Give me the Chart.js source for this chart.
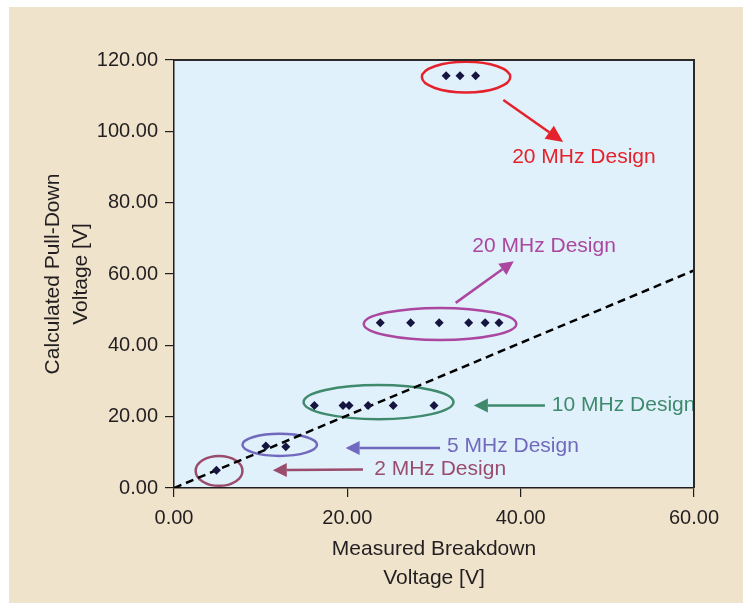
<!DOCTYPE html>
<html>
<head>
<meta charset="utf-8">
<script src="https://cdn.jsdelivr.net/npm/chart.js@4.4.1/dist/chart.umd.min.js"></script>
<style>
  html, body { margin: 0; padding: 0; background: #fff; }
  canvas { display: block; }
</style>
</head>
<body>
<canvas id="BreakdownChart" width="743" height="603"></canvas>
<script>
// Measured breakdown vs calculated pull-down voltage
// ***********************************************

// Data (2, 5, 10, 20, 20 MHz design groups, left to right)
const breakdownV = [
  4.9,
  10.6, 12.9,
  16.2, 19.5, 20.2, 22.4, 25.3, 30.0,
  23.8, 27.3, 30.6, 34.0, 35.9, 37.5,
  31.4, 33.0, 34.8
];
const pullDownV = [
  5.0,
  11.8, 11.6,
  23.1, 23.1, 23.1, 23.1, 23.1, 23.1,
  46.3, 46.3, 46.3, 46.3, 46.3, 46.3,
  115.6, 115.6, 115.6
];

// dashed reference line
const refLineX = [0, 60];
const refLineY = [0, 61];

// ticks
const xTicks = [0, 20, 40, 60];
const yTicks = [0, 20, 40, 60, 80, 100, 120];

const groupLabels = ['2 MHz Design', '5 MHz Design', '10 MHz Design', '20 MHz Design', '20 MHz Design'];

const FONT = "'Liberation Sans', Arial, Helvetica, sans-serif";
const INK = '#231f20';

// callouts, in axis units: ellipse [cx, cy, rx, ry], arrow [x1, y1, x2, y2], text [x, y, align]
const callouts = [
  { color: '#9a4c6c', ell: [5.2, 4.8, 2.7, 4.2], arrow: [21.8, 5.2, 11.4, 5.0], text: [23.1, 5.3, 'left'] },
  { color: '#7169bd', ell: [12.2, 12.1, 4.3, 3.1], arrow: [30.7, 11.2, 19.8, 11.2], text: [31.5, 11.8, 'left'] },
  { color: '#3f8a6d', ell: [23.6, 24.1, 8.65, 4.8], arrow: [42.8, 23.1, 34.6, 23.1], text: [43.6, 23.3, 'left'] },
  { color: '#ab479f', ell: [30.7, 46.0, 8.8, 4.5], arrow: [32.5, 51.9, 39.2, 63.6], text: [42.7, 67.9, 'center'] },
  { color: '#e5222b', ell: [33.7, 115.2, 5.1, 4.3], arrow: [38.0, 108.8, 44.9, 97.0], text: [47.3, 92.8, 'center'] }
];

const points = breakdownV.map((x, i) => ({ x: x, y: pullDownV[i] }));
const refLine = refLineX.map((x, i) => ({ x: x, y: refLineY[i] }));

// background, plot fill and frame
const backdrop = {
  id: 'backdrop',
  beforeDraw(chart) {
    const { ctx, chartArea: a } = chart;
    ctx.save();
    ctx.fillStyle = '#ffffff';
    ctx.fillRect(0, 0, chart.width, chart.height);
    ctx.fillStyle = '#efe3cc';
    ctx.fillRect(9, 7, chart.width - 9, chart.height - 7);
    ctx.fillStyle = '#e0f1fb';
    ctx.fillRect(a.left, a.top, a.right - a.left, a.bottom - a.top);
    ctx.restore();
  },
  afterDraw(chart) {
    const { ctx, chartArea: a } = chart;
    ctx.save();
    ctx.strokeStyle = '#2a2a2a';
    ctx.lineWidth = 2;
    ctx.beginPath();
    ctx.moveTo(a.left, a.top);
    ctx.lineTo(a.right, a.top);
    ctx.lineTo(a.right, a.bottom);
    ctx.stroke();
    ctx.restore();
  }
};

function drawArrow(ctx, x1, y1, x2, y2, head, half) {
  const ang = Math.atan2(y2 - y1, x2 - x1);
  const bx = x2 - head * Math.cos(ang), by = y2 - head * Math.sin(ang);
  ctx.beginPath();
  ctx.moveTo(x1, y1);
  ctx.lineTo(bx, by);
  ctx.stroke();
  ctx.beginPath();
  ctx.moveTo(x2, y2);
  ctx.lineTo(bx + half * Math.sin(ang), by - half * Math.cos(ang));
  ctx.lineTo(bx - half * Math.sin(ang), by + half * Math.cos(ang));
  ctx.closePath();
  ctx.fill();
}

const calloutPlugin = {
  id: 'callouts',
  beforeDatasetsDraw(chart) {
    const { ctx, chartArea: a } = chart;
    const xs = chart.scales.x, ys = chart.scales.y;
    const px = v => xs.getPixelForValue(v), py = v => ys.getPixelForValue(v);
    ctx.save();
    ctx.beginPath();
    ctx.rect(a.left, a.top, a.right - a.left, a.bottom - a.top);
    ctx.clip();
    callouts.forEach((c, i) => {
      ctx.strokeStyle = c.color;
      ctx.fillStyle = c.color;
      ctx.lineWidth = 2.5;
      const [cx, cy, rx, ry] = c.ell;
      ctx.beginPath();
      ctx.ellipse(px(cx), py(cy), px(cx + rx) - px(cx), py(cy) - py(cy + ry), 0, 0, Math.PI * 2);
      ctx.stroke();
      const [x1, y1, x2, y2] = c.arrow;
      drawArrow(ctx, px(x1), py(y1), px(x2), py(y2), i === 4 ? 17 : 14, i === 4 ? 8 : 7);
      ctx.font = '21px ' + FONT;
      ctx.textAlign = c.text[2];
      ctx.textBaseline = 'middle';
      ctx.fillText(groupLabels[i], px(c.text[0]), py(c.text[1]));
    });
    ctx.restore();
  }
};

//config
const BreakdownConfig = {
  type: 'scatter',
  data: {
    datasets: [{
      label: 'Designs',
      data: points,
      pointStyle: 'rectRot',
      pointRadius: 4.5,
      pointBackgroundColor: '#15153f',
      pointBorderColor: '#15153f',
      pointBorderWidth: 0
    }, {
      label: 'Reference',
      data: refLine,
      showLine: true,
      borderColor: '#000000',
      borderWidth: 2.5,
      borderDash: [8, 5],
      pointRadius: 0
    }]
  },
  options: {
    responsive: false,
    animation: false,
    layout: { padding: { left: 0, right: 49, top: 60, bottom: 0 } },
    plugins: {
      legend: { display: false },
      tooltip: { enabled: false }
    },
    scales: {
      x: {
        type: 'linear',
        min: 0,
        max: 60,
        afterBuildTicks: s => { s.ticks = xTicks.map(v => ({ value: v })); },
        afterFit: s => { s.height = 115; },
        border: { display: true, color: '#1f1f1f', width: 1.5 },
        grid: { drawOnChartArea: false, drawTicks: true, tickLength: 9, color: '#1f1f1f', lineWidth: 1.2 },
        ticks: {
          autoSkip: false,
          maxRotation: 0,
          padding: 9,
          color: INK,
          font: { family: FONT, size: 20 },
          callback: v => Number(v).toFixed(2)
        },
        title: {
          display: true,
          text: ['Measured Breakdown', 'Voltage [V]'],
          color: INK,
          font: { family: FONT, size: 21, lineHeight: 1.38 },
          padding: { top: 0, bottom: 10 }
        }
      },
      y: {
        type: 'linear',
        min: 0,
        max: 120,
        afterBuildTicks: s => { s.ticks = yTicks.map(v => ({ value: v })); },
        afterFit: s => { s.width = 174; },
        border: { display: true, color: '#1f1f1f', width: 1.5 },
        grid: { drawOnChartArea: false, drawTicks: true, tickLength: 9, color: '#1f1f1f', lineWidth: 1.2 },
        ticks: {
          autoSkip: false,
          padding: 7,
          color: INK,
          font: { family: FONT, size: 20 },
          callback: v => Number(v).toFixed(2)
        },
        title: {
          display: true,
          text: ['Calculated Pull-Down', 'Voltage [V]'],
          color: INK,
          font: { family: FONT, size: 21, lineHeight: 1.333 },
          padding: { top: 39, bottom: 0 }
        }
      }
    }
  },
  plugins: [backdrop, calloutPlugin]
};

//View
const BreakdownChart = new Chart(
  document.getElementById('BreakdownChart'),
  BreakdownConfig
);
</script>
</body>
</html>
